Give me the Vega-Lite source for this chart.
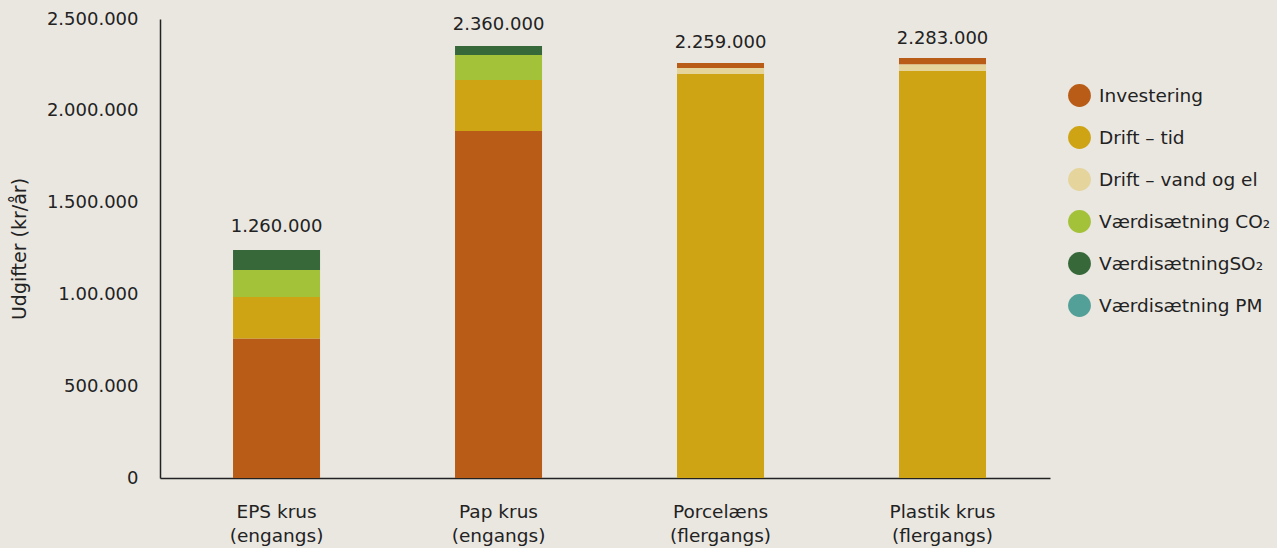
{
  "$schema": "https://vega.github.io/schema/vega-lite/v6.json",
  "width": 890,
  "height": 459,
  "autosize": {"type": "none"},
  "padding": {"left": 160, "top": 19, "right": 227, "bottom": 70},
  "background": "#EAE7E1",
  "config": {
    "view": {"stroke": null},
    "font": "DejaVu Sans",
    "locale": {"number": {"decimal": ",", "thousands": ".", "grouping": [3], "currency": ["", " kr."]}}
  },
  "datasets": {
    "parts": [
      {"krus": "EPS krus|(engangs)", "kategori": "Investering", "value": 760000},
      {"krus": "EPS krus|(engangs)", "kategori": "Drift – tid", "value": 226000},
      {"krus": "EPS krus|(engangs)", "kategori": "Værdisætning CO₂", "value": 147000},
      {"krus": "EPS krus|(engangs)", "kategori": "VærdisætningSO₂", "value": 109000},
      {"krus": "Pap krus|(engangs)", "kategori": "Investering", "value": 1890000},
      {"krus": "Pap krus|(engangs)", "kategori": "Drift – tid", "value": 278000},
      {"krus": "Pap krus|(engangs)", "kategori": "Værdisætning CO₂", "value": 136000},
      {"krus": "Pap krus|(engangs)", "kategori": "VærdisætningSO₂", "value": 49000},
      {"krus": "Porcelæns|(flergangs)", "kategori": "Drift – tid", "value": 2200000},
      {"krus": "Porcelæns|(flergangs)", "kategori": "Drift – vand og el", "value": 33000},
      {"krus": "Porcelæns|(flergangs)", "kategori": "Investering", "value": 27000},
      {"krus": "Plastik krus|(flergangs)", "kategori": "Drift – tid", "value": 2217000},
      {"krus": "Plastik krus|(flergangs)", "kategori": "Drift – vand og el", "value": 36000},
      {"krus": "Plastik krus|(flergangs)", "kategori": "Investering", "value": 35000}
    ],
    "totals": [
      {"krus": "EPS krus|(engangs)", "total": 1260000},
      {"krus": "Pap krus|(engangs)", "total": 2360000},
      {"krus": "Porcelæns|(flergangs)", "total": 2259000},
      {"krus": "Plastik krus|(flergangs)", "total": 2283000}
    ]
  },
  "layer": [
    {
      "data": {"name": "parts"},
      "mark": {"type": "bar"},
      "encoding": {
        "x": {
          "field": "krus", "type": "nominal",
          "sort": ["EPS krus|(engangs)", "Pap krus|(engangs)", "Porcelæns|(flergangs)", "Plastik krus|(flergangs)"],
          "scale": {"paddingInner": 0.608, "paddingOuter": 0.3086, "align": 0.533},
          "axis": {
            "title": null, "labelAngle": 0, "ticks": false, "domainColor": "#222", "domainWidth": 1.5,
            "labelExpr": "split(datum.value, '|')", "labelFontSize": 18.5, "labelColor": "#222",
            "labelPadding": 24, "labelLineHeight": 24, "labelBaseline": "top"
          }
        },
        "y": {
          "field": "value", "type": "quantitative", "aggregate": "sum", "stack": "zero",
          "scale": {"domain": [0, 2500000], "nice": false},
          "axis": {
            "title": "Udgifter  (kr/år)", "titleFontSize": 19, "titleFontWeight": "normal", "titleColor": "#222",
            "titlePadding": 17,
            "values": [0, 500000, 1000000, 1500000, 2000000, 2500000],
            "format": ",d",
            "labelExpr": "datum.value == 1000000 ? '1.00.000' : datum.label",
            "ticks": false, "grid": false, "domainColor": "#222", "domainWidth": 1.5,
            "labelFontSize": 18, "labelColor": "#222", "labelPadding": 22
          }
        },
        "order": {"field": "value", "aggregate": "sum", "sort": "descending"},
        "color": {
          "field": "kategori", "type": "nominal",
          "scale": {
            "domain": ["Investering", "Drift – tid", "Drift – vand og el", "Værdisætning CO₂", "VærdisætningSO₂", "Værdisætning PM"],
            "range": ["#B85C17", "#CEA314", "#E5D49B", "#A4C13A", "#37683A", "#52A097"]
          },
          "legend": {
            "title": null, "orient": "none", "legendX": 908, "legendY": 65,
            "symbolType": "circle", "symbolSize": 520, "symbolStrokeWidth": 0,
            "labelFontSize": 18.5, "labelColor": "#222", "rowPadding": 19, "labelOffset": 8,
            "labelLimit": 300
          }
        }
      }
    },
    {
      "data": {"name": "totals"},
      "mark": {"type": "text", "fontSize": 18, "color": "#222", "baseline": "bottom", "dy": -11},
      "encoding": {
        "x": {"field": "krus", "type": "nominal", "sort": ["EPS krus|(engangs)", "Pap krus|(engangs)", "Porcelæns|(flergangs)", "Plastik krus|(flergangs)"]},
        "y": {"field": "total", "type": "quantitative", "scale": {"domain": [0, 2500000], "nice": false}},
        "text": {"field": "total", "type": "quantitative", "format": ",d"}
      }
    }
  ]
}
